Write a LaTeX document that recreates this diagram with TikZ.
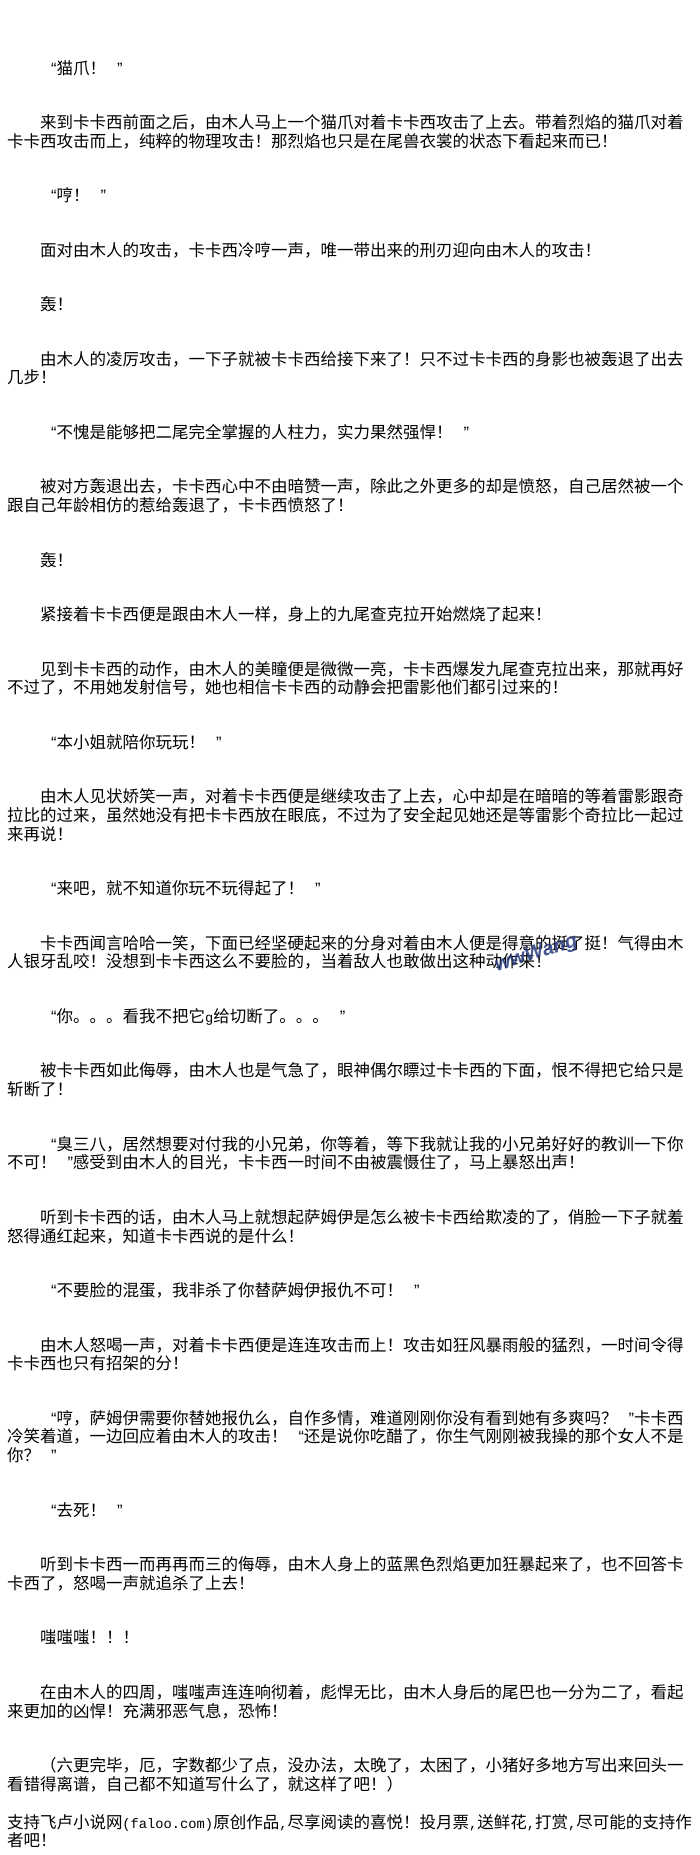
\documentclass[tikz,border=0pt]{standalone}
\usepackage{fontspec}
\newfontfamily\cjk{Noto Sans CJK SC}
\newfontfamily\qf{Liberation Sans}
\newfontfamily\hwf{Liberation Mono}
\newcommand\LQ{\makebox[1em][r]{\qf “}}
\newcommand\RQ{\makebox[1em][r]{\qf ”}}
\newcommand\HW[1]{{\hwf\fontsize{13.75pt}{13.75pt}\selectfont #1}}
\definecolor{wmblue}{RGB}{38,58,128}
\tikzset{
  ln/.style={anchor=base west, inner sep=0pt, outer sep=0pt, text=black,
             text height=0.78em, text depth=0.08em,
             font=\cjk\fontsize{16.5pt}{18.7pt}\selectfont},
  wmark/.style={inner sep=0pt, text=wmblue, opacity=0.85,
             text height=0.7em, text depth=0.15em,
             font=\qf\bfseries\itshape\fontsize{20pt}{20pt}\selectfont}
}
\begin{document}
\begin{tikzpicture}[x=1pt,y=-1pt]
\useasboundingbox (0,0) rectangle (700,1855);
\fill[white] (0,0) rectangle (700,1855);
% 1
\node[ln] (p1) at (40,74) {\LQ 猫爪！\RQ};
% 2
\node[ln] (p2a) at (40,128.5) {来到卡卡西前面之后，由木人马上一个猫爪对着卡卡西攻击了上去。带着烈焰的猫爪对着};
\node[ln] (p2b) at (7,147.2) {卡卡西攻击而上，纯粹的物理攻击！那烈焰也只是在尾兽衣裳的状态下看起来而已！};
% 3
\node[ln] (p3) at (40,201.7) {\LQ 哼！\RQ};
% 4
\node[ln] (p4) at (40,256.2) {面对由木人的攻击，卡卡西冷哼一声，唯一带出来的刑刃迎向由木人的攻击！};
% 5
\node[ln] (p5) at (40,310.7) {轰！};
% 6
\node[ln] (p6a) at (40,365.2) {由木人的凌厉攻击，一下子就被卡卡西给接下来了！只不过卡卡西的身影也被轰退了出去};
\node[ln] (p6b) at (7,383.9) {几步！};
% 7
\node[ln] (p7) at (40,438.4) {\LQ 不愧是能够把二尾完全掌握的人柱力，实力果然强悍！\RQ};
% 8
\node[ln] (p8a) at (40,492.9) {被对方轰退出去，卡卡西心中不由暗赞一声，除此之外更多的却是愤怒，自己居然被一个};
\node[ln] (p8b) at (7,511.6) {跟自己年龄相仿的惹给轰退了，卡卡西愤怒了！};
% 9
\node[ln] (p9) at (40,566.1) {轰！};
% 10
\node[ln] (p10) at (40,620.6) {紧接着卡卡西便是跟由木人一样，身上的九尾查克拉开始燃烧了起来！};
% 11
\node[ln] (p11a) at (40,675.1) {见到卡卡西的动作，由木人的美瞳便是微微一亮，卡卡西爆发九尾查克拉出来，那就再好};
\node[ln] (p11b) at (7,693.8) {不过了，不用她发射信号，她也相信卡卡西的动静会把雷影他们都引过来的！};
% 12
\node[ln] (p12) at (40,748.3) {\LQ 本小姐就陪你玩玩！\RQ};
% 13
\node[ln] (p13a) at (40,802.8) {由木人见状娇笑一声，对着卡卡西便是继续攻击了上去，心中却是在暗暗的等着雷影跟奇};
\node[ln] (p13b) at (7,821.5) {拉比的过来，虽然她没有把卡卡西放在眼底，不过为了安全起见她还是等雷影个奇拉比一起过};
\node[ln] (p13c) at (7,840.2) {来再说！};
% 14
\node[ln] (p14) at (40,894.7) {\LQ 来吧，就不知道你玩不玩得起了！\RQ};
% 15
\node[ln] (p15a) at (40,949.2) {卡卡西闻言哈哈一笑，下面已经坚硬起来的分身对着由木人便是得意的挺了挺！气得由木};
\node[ln] (p15b) at (7,967.9) {人银牙乱咬！没想到卡卡西这么不要脸的，当着敌人也敢做出这种动作来！};
\node[wmark, rotate=17] (wm) at (537,956) {wwWang};
% 16
\node[ln] (p16) at (40,1022.4) {\LQ 你。。。看我不把它\HW{g}给切断了。。。\RQ};
% 17
\node[ln] (p17a) at (40,1076.9) {被卡卡西如此侮辱，由木人也是气急了，眼神偶尔瞟过卡卡西的下面，恨不得把它给只是};
\node[ln] (p17b) at (7,1095.6) {斩断了！};
% 18
\node[ln] (p18a) at (40,1150.1) {\LQ 臭三八，居然想要对付我的小兄弟，你等着，等下我就让我的小兄弟好好的教训一下你};
\node[ln] (p18b) at (7,1168.8) {不可！\RQ 感受到由木人的目光，卡卡西一时间不由被震慑住了，马上暴怒出声！};
% 19
\node[ln] (p19a) at (40,1223.3) {听到卡卡西的话，由木人马上就想起萨姆伊是怎么被卡卡西给欺凌的了，俏脸一下子就羞};
\node[ln] (p19b) at (7,1242.0) {怒得通红起来，知道卡卡西说的是什么！};
% 20
\node[ln] (p20) at (40,1296.5) {\LQ 不要脸的混蛋，我非杀了你替萨姆伊报仇不可！\RQ};
% 21
\node[ln] (p21a) at (40,1351.0) {由木人怒喝一声，对着卡卡西便是连连攻击而上！攻击如狂风暴雨般的猛烈，一时间令得};
\node[ln] (p21b) at (7,1369.7) {卡卡西也只有招架的分！};
% 22
\node[ln] (p22a) at (40,1424.2) {\LQ 哼，萨姆伊需要你替她报仇么，自作多情，难道刚刚你没有看到她有多爽吗？\RQ 卡卡西};
\node[ln] (p22b) at (7,1442.9) {冷笑着道，一边回应着由木人的攻击！\LQ 还是说你吃醋了，你生气刚刚被我操的那个女人不是};
\node[ln] (p22c) at (7,1461.6) {你？\RQ};
% 23
\node[ln] (p23) at (40,1516.1) {\LQ 去死！\RQ};
% 24
\node[ln] (p24a) at (40,1570.6) {听到卡卡西一而再再而三的侮辱，由木人身上的蓝黑色烈焰更加狂暴起来了，也不回答卡};
\node[ln] (p24b) at (7,1589.3) {卡西了，怒喝一声就追杀了上去！};
% 25
\node[ln] (p25) at (40,1643.8) {嗤嗤嗤！！！};
% 26
\node[ln] (p26a) at (40,1698.3) {在由木人的四周，嗤嗤声连连响彻着，彪悍无比，由木人身后的尾巴也一分为二了，看起};
\node[ln] (p26b) at (7,1717.0) {来更加的凶悍！充满邪恶气息，恐怖！};
% 27
\node[ln] (p27a) at (40,1771.5) {（六更完毕，厄，字数都少了点，没办法，太晚了，太困了，小猪好多地方写出来回头一};
\node[ln] (p27b) at (7,1790.2) {看错得离谱，自己都不知道写什么了，就这样了吧！）};
% 28
\node[ln] (p28a) at (7,1828) {支持飞卢小说网\HW{(faloo.com)}原创作品\HW{,}尽享阅读的喜悦！投月票\HW{,}送鲜花\HW{,}打赏\HW{,}尽可能的支持作};
\node[ln] (p28b) at (7,1846.7) {者吧！};
\end{tikzpicture}
\end{document}
